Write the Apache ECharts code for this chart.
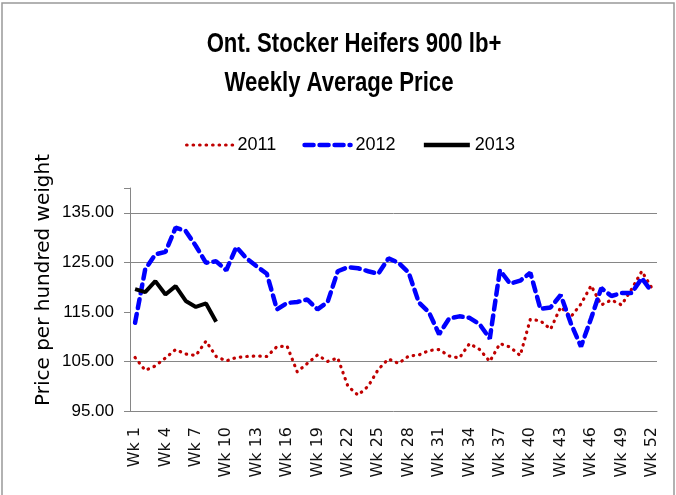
<!DOCTYPE html>
<html>
<head>
<meta charset="utf-8">
<script src="https://cdn.jsdelivr.net/npm/echarts@6/dist/echarts.min.js"></script>
<style>
  html, body { margin: 0; padding: 0; background: #fff; }
  #chart { width: 676px; height: 495px; }
</style>
</head>
<body>
<div id="chart"></div>
<script>
// week labels along the bottom
var weeks = Array.from({ length: 52 }, function (_, i) { return "Wk " + (i + 1); });

// price per hundred weight
var y2011 = [105.8, 103.2, 104.1, 105.7, 107.4, 106.5, 106.2, 109.1, 106.0, 105.1,
             105.8, 106.0, 106.1, 106.0, 108.0, 108.1, 102.9, 104.6, 106.3, 105.0,
             105.7, 100.0, 98.2, 100.0, 103.4, 105.5, 104.6, 106.1, 106.3, 107.2,
             107.4, 106.1, 105.7, 108.6, 107.4, 105.0, 108.6, 107.9, 106.2, 113.5,
             113.2, 111.5, 116.0, 114.0, 116.6, 120.3, 116.4, 117.4, 116.4, 119.6,
             123.2, 119.8];
var y2012 = [112.8, 123.6, 126.6, 127.1, 132.0, 131.3, 128.3, 124.9, 125.2, 123.4,
             128.1, 125.8, 124.2, 122.7, 115.5, 116.8, 117.0, 117.5, 115.5, 117.0,
             123.2, 124.0, 123.8, 123.2, 122.7, 125.8, 124.9, 122.9, 116.9, 114.9,
             110.5, 113.7, 114.1, 113.8, 112.5, 109.6, 123.4, 120.7, 121.3, 122.9,
             115.6, 115.9, 118.4, 112.7, 108.0, 113.7, 119.8, 118.2, 118.8, 118.8,
             121.8, 119.0];
var y2013 = [119.6, 119.0, 121.2, 118.5, 120.2, 117.2, 116.0, 116.7, 113.0];

// horizontal grid lines that show in the picture
var gridValues = [135, 125, 105];

var chart = echarts.init(document.getElementById("chart"));

// title drawn as narrowed text, the original uses a condensed face
var titleFont = { fontFamily: "Liberation Sans", fontSize: 27, fontWeight: "bold", fill: "#000",
                  align: "center", verticalAlign: "middle" };

chart.setOption({
    backgroundColor: "#fff",
    animation: false,
    legend: {
        left: 180,
        top: 131,
        itemWidth: 46,
        itemHeight: 14,
        itemGap: 26,
        data: [
            { name: "2011", lineStyle: { width: 3.2 } },
            { name: "2012", lineStyle: { width: 4.5 } },
            { name: "2013", lineStyle: { width: 4.5 } }
        ],
        itemStyle: { color: "transparent", borderColor: "transparent", borderWidth: 0 },
        textStyle: { fontFamily: "Liberation Sans", fontSize: 18, color: "#000" }
    },
    graphic: [{
        type: "rect",
        shape: { x: 2, y: 3, width: 672, height: 510 },
        style: { fill: "none", stroke: "#999", lineWidth: 1.5 },
        silent: true
    }, {
        type: "text",
        x: 354,
        y: 45,
        scaleX: 0.82,
        style: Object.assign({ text: "Ont. Stocker Heifers 900 lb+" }, titleFont)
    }, {
        type: "text",
        x: 339,
        y: 84,
        scaleX: 0.82,
        style: Object.assign({ text: "Weekly Average Price" }, titleFont)
    }, {
        type: "text",
        x: 44,
        y: 280,
        rotation: Math.PI / 2,
        style: {
            text: "Price per hundred weight",
            fontFamily: "DejaVu Sans",
            fontSize: 20,
            fill: "#000",
            align: "center",
            verticalAlign: "middle"
        }
    }],
    grid: { left: 130, right: 19, top: 188, bottom: 84 },
    xAxis: {
        type: "category",
        data: weeks,
        boundaryGap: true,
        axisLine: { lineStyle: { color: "#868686" } },
        axisTick: { interval: 0, length: 5, lineStyle: { color: "#868686" } },
        axisLabel: {
            interval: 2,
            rotate: 90,
            margin: 16,
            fontFamily: "DejaVu Sans",
            fontSize: 16,
            color: "#111"
        }
    },
    yAxis: {
        type: "value",
        min: 95,
        max: 140,
        interval: 10,
        axisLine: { show: true, lineStyle: { color: "#868686" } },
        axisTick: { show: true, length: 6, lineStyle: { color: "#868686" } },
        splitLine: { show: false },
        axisLabel: {
            margin: 16,
            fontFamily: "Liberation Sans",
            fontSize: 17,
            color: "#000",
            formatter: function (v) { return v === 140 ? "" : v.toFixed(2); }
        }
    },
    series: [{
        name: "2011",
        type: "line",
        data: y2011,
        symbol: "none",
        z: 3,
        itemStyle: { color: "#C00000" },
        lineStyle: { color: "#C00000", width: 3.2, type: [0.5, 6], cap: "round" },
        markLine: {
            silent: true,
            symbol: "none",
            label: { show: false },
            z: 1,
            lineStyle: { color: "#868686", width: 1, type: "solid" },
            data: gridValues.map(function (v) { return { yAxis: v }; })
        }
    }, {
        name: "2012",
        type: "line",
        data: y2012,
        symbol: "none",
        z: 4,
        itemStyle: { color: "#0000FF" },
        lineStyle: { color: "#0000FF", width: 4.5, type: [9, 6], cap: "round" }
    }, {
        name: "2013",
        type: "line",
        data: y2013,
        symbol: "none",
        z: 5,
        itemStyle: { color: "#000" },
        lineStyle: { color: "#000", width: 4 }
    }]
});
</script>
</body>
</html>
